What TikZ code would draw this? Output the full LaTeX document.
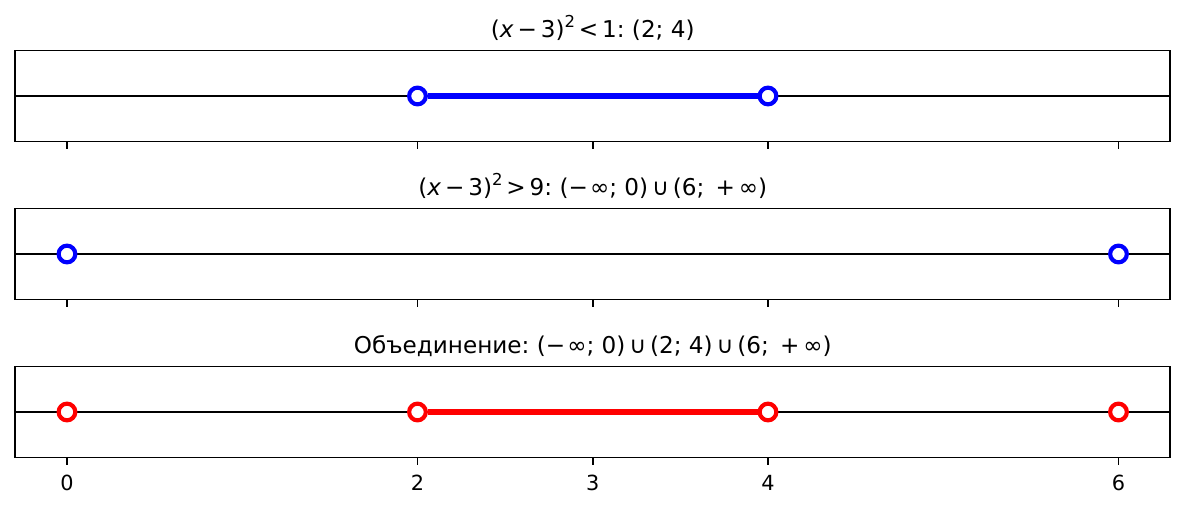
\documentclass[tikz,border=0pt]{standalone}
\usepackage{fontspec}
\setmainfont{DejaVu Sans}
\frenchspacing
\newcommand{\sqr}{\raisebox{0.42em}{\fontsize{7.9}{9}\selectfont 2}}

\begin{document}
\begin{tikzpicture}[x=84.12pt, y=-0.48pt,
    openpt/.style={circle, draw=#1, fill=white, line width=2pt,
                   minimum size=8pt, inner sep=0pt},
    seg/.style={draw=#1, line width=3pt},
    ttl/.style={anchor=base, font=\fontsize{11.1}{14}\selectfont},
    ticklbl/.style={anchor=north, inner sep=0pt, font=\fontsize{10}{12}\selectfont}]

\useasboundingbox (-0.3823,0) rectangle (6.3795,507);

% frames, axis lines and ticks of the three panels
\foreach \c in {96,254,412} {
  \draw [line width=0.8pt] (-0.2967,\c-45.5) rectangle (6.2939,\c+45.5);
  \draw [line width=1pt] (-0.2967,\c) -- (6.2939,\c);
  \foreach \t in {0,2,3,4,6}
    \draw [line width=0.8pt] (\t,\c+45.5) -- (\t,\c+52.8);
}

% tick labels, bottom panel only
\foreach \t in {0,2,3,4,6}
  \node [ticklbl] at (\t,474.5) {\t};

% titles
\node [ttl] (t1) at (3,37) {(\textit{x}\,−\,3)\sqr\,<\,1: (2;~4)};
\node [ttl] (t2) at (3,195) {(\textit{x}\,−\,3)\sqr\,>\,9: (−\kern1pt∞;~0)\,∪\,(6;~\,+\,∞)};
\node [ttl] (t3) at (3,353) {Объединение: (−\kern1pt∞;~0)\,∪\,(2;~4)\,∪\,(6;~\,+\,∞)};

% panel 1
\node [openpt=blue] (a2) at (2,96) {};
\node [openpt=blue] (a4) at (4,96) {};
\draw [seg=blue] (a2) -- (a4);

% panel 2
\node [openpt=blue] (b0) at (0,254) {};
\node [openpt=blue] (b6) at (6,254) {};

% panel 3
\node [openpt=red] (c0) at (0,412) {};
\node [openpt=red] (c2) at (2,412) {};
\node [openpt=red] (c4) at (4,412) {};
\node [openpt=red] (c6) at (6,412) {};
\draw [seg=red] (c2) -- (c4);

\end{tikzpicture}
\end{document}
